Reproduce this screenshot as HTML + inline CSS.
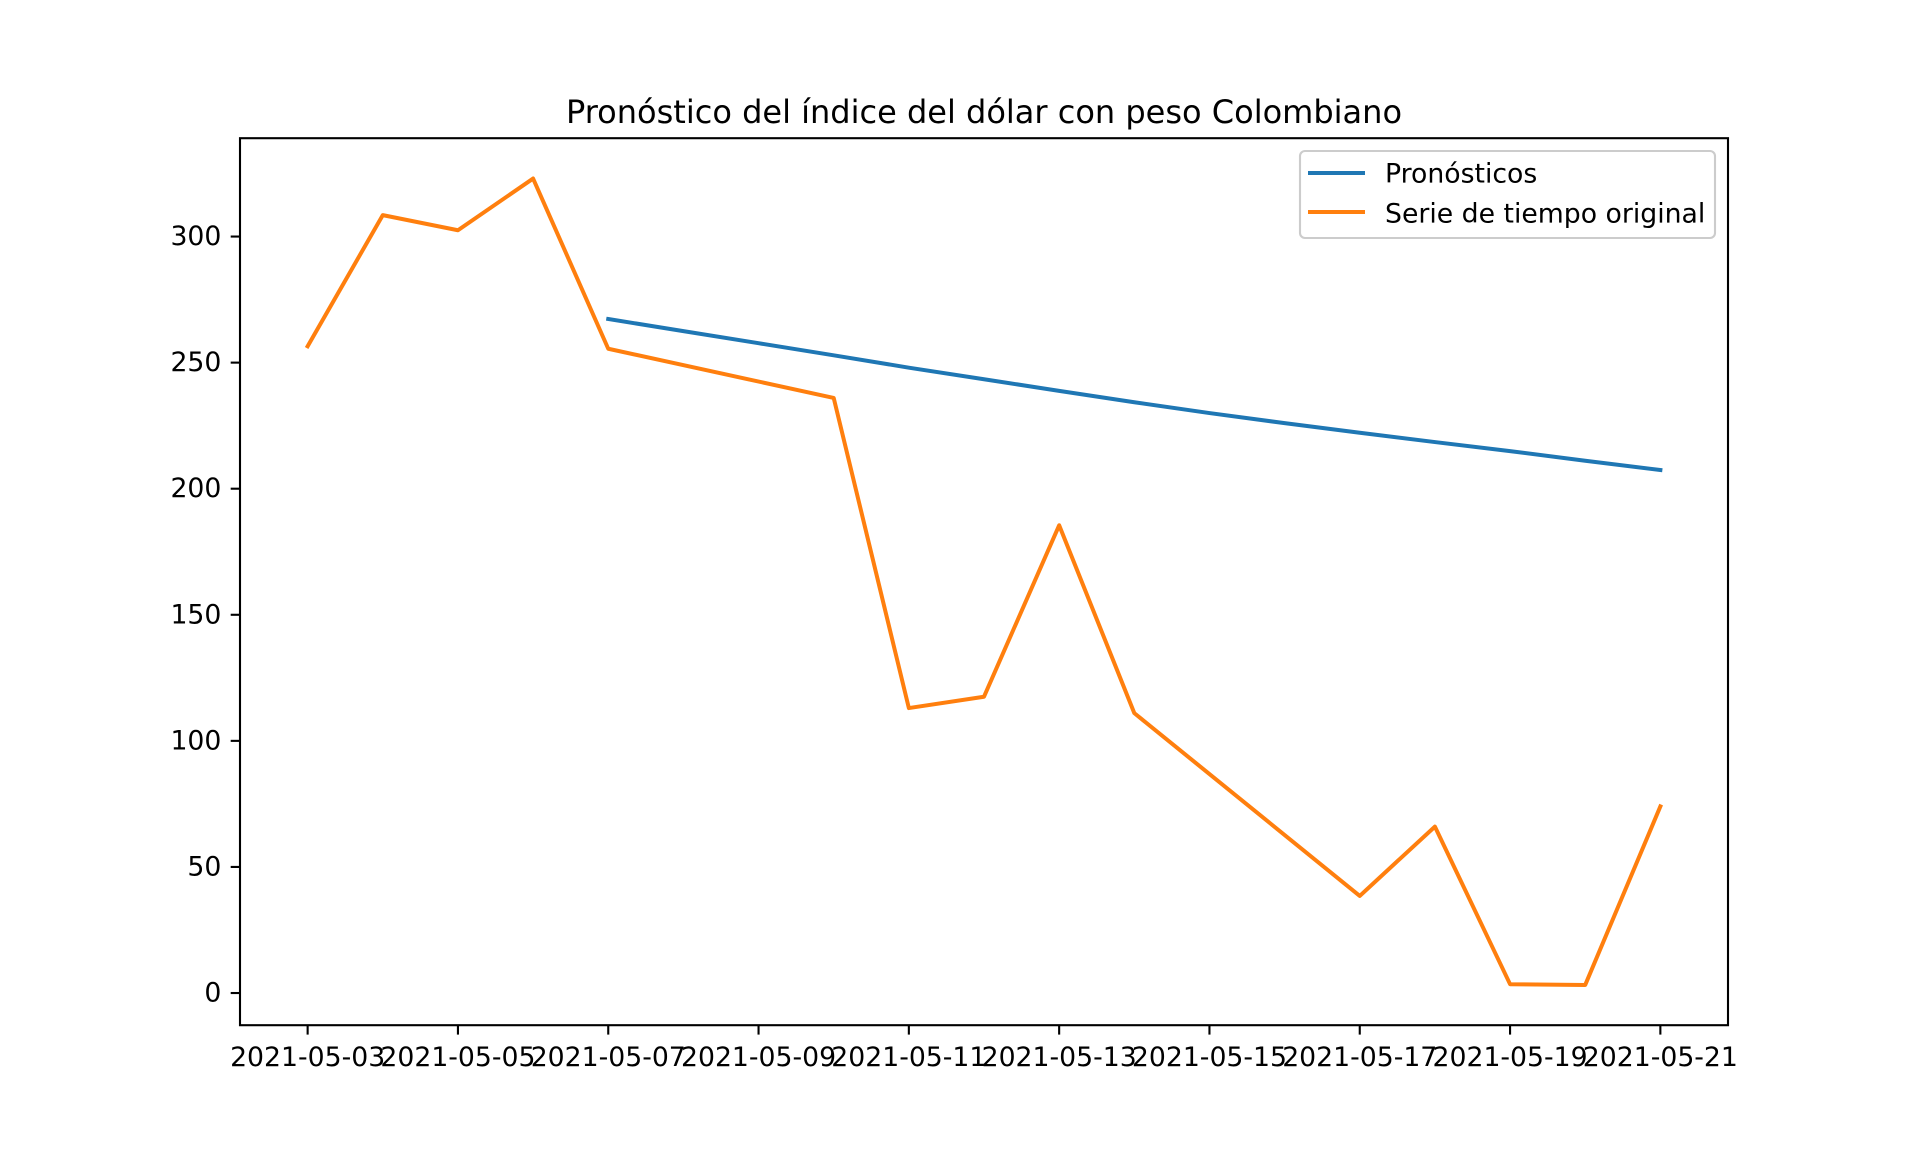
<!DOCTYPE html>
<html><head><meta charset="utf-8"><style>
html,body{margin:0;padding:0;background:#fff;}
svg{display:block;font-family:"DejaVu Sans","Liberation Sans",sans-serif;}
</style></head><body>
<svg id="chart" width="1920" height="1152" viewBox="0 0 1920 1152" xmlns="http://www.w3.org/2000/svg">
<rect width="1920" height="1152" fill="#fff"/>
<text x="984" y="112" font-size="32" text-anchor="middle" dominant-baseline="central">Pronóstico del índice del dólar con peso Colombiano</text>
<g id="plot"></g>
<rect x="240" y="138.2" width="1488" height="887" fill="none" stroke="#000" stroke-width="2.1"/>
<g>
<rect x="1300" y="151" width="415" height="87" rx="5" fill="#fff" fill-opacity="0.8" stroke="#ccc" stroke-width="2.1"/>
<line x1="1308" y1="173" x2="1365" y2="173" stroke="#1f77b4" stroke-width="4"/>
<text x="1385" y="174" font-size="26.7" dominant-baseline="central">Pronósticos</text>
<line x1="1308" y1="212" x2="1365" y2="212" stroke="#ff7f0e" stroke-width="4"/>
<text x="1385" y="214" font-size="26.7" dominant-baseline="central">Serie de tiempo original</text>
</g>
</svg>
<script>
const origDays = [0,1,2,3,4,7,8,9,10,11,14,15,16,17,18];
const origValues = [256.5,308.5,302.5,323,255.5,236,113,117.5,185.5,111,38.5,66,3.5,3.2,74];
const forecastDays = [4,5,6,7,8,9,10,11,12,13,14,15,16,17,18];
const forecastValues = [267.3,262.5,257.7,252.9,248.0,243.4,238.8,234.3,230.0,226.0,222.2,218.5,214.9,211.1,207.4];
const xTickLabels = ["2021-05-03","2021-05-05","2021-05-07","2021-05-09","2021-05-11","2021-05-13","2021-05-15","2021-05-17","2021-05-19","2021-05-21"];
const xTickDays = [0,2,4,6,8,10,12,14,16,18];
const yTicks = [0,50,100,150,200,250,300];

const L=240,R=1728,T=138.2,B=1025.3;
const xmin=-0.9,xmax=18.9,ymin=-12.8,ymax=339;
const xs=d=>L+(d-xmin)/(xmax-xmin)*(R-L);
const ys=v=>B-(v-ymin)/(ymax-ymin)*(B-T);
const NS="http://www.w3.org/2000/svg";
const g=document.getElementById('plot');
function mk(t,a){const e=document.createElementNS(NS,t);for(const k in a)e.setAttribute(k,a[k]);g.appendChild(e);return e;}
xTickDays.forEach((d,i)=>{
 const x=xs(d);
 const tk=mk('line',{x1:x,y1:B,x2:x,y2:B+9.3,stroke:'#000','stroke-width':2.1});
 
 
 const t=mk('text',{x:x,y:B+32,'font-size':26.7,'text-anchor':'middle','dominant-baseline':'central'});
 t.textContent=xTickLabels[i];
 
 
});
yTicks.forEach(v=>{
 const y=ys(v);
 const tk=mk('line',{x1:L-9.3,y1:y,x2:L,y2:y,stroke:'#000','stroke-width':2.1});
 
 
 const t=mk('text',{x:L-18.6,y:y,'font-size':26.7,'text-anchor':'end','dominant-baseline':'central'});
 t.textContent=v;
 
 
});
const fl=mk('polyline',{points:forecastDays.map((d,i)=>xs(d)+','+ys(forecastValues[i])).join(' '),fill:'none',stroke:'#1f77b4','stroke-width':4,'stroke-linejoin':'round','stroke-linecap':'square'});


const ol=mk('polyline',{points:origDays.map((d,i)=>xs(d)+','+ys(origValues[i])).join(' '),fill:'none',stroke:'#ff7f0e','stroke-width':4,'stroke-linejoin':'round','stroke-linecap':'square'});


</script>
</body></html>
